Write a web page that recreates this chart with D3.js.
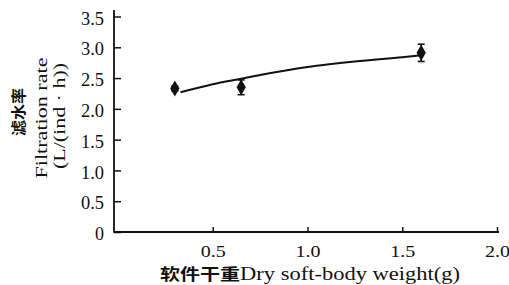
<!DOCTYPE html>
<html>
<head>
<meta charset="utf-8">
<script src="https://cdn.jsdelivr.net/npm/d3@7.9.0/dist/d3.min.js"></script>
<style>
  html, body { margin: 0; padding: 0; background: #fff; }
  svg { display: block; }
  svg text { fill: #111; font-family: "Liberation Serif", "DejaVu Serif", serif !important; }
  svg text.cjk, svg tspan.cjk { font-family: "Noto Sans CJK SC", sans-serif !important; font-weight: 700; }
</style>
</head>
<body>
<svg id="chart" width="509" height="285"></svg>
<script>
// measured points (mean ± error)
const weights   = [0.30, 0.65, 1.60];
const rates     = [2.33, 2.35, 2.91];
const rateErr   = [0.04, 0.12, 0.14];

// fitted curve
const curveX = [0.33, 0.50, 0.65, 0.75, 1.00, 1.25, 1.50, 1.60];
const curveY = [2.27, 2.40, 2.49, 2.55, 2.68, 2.77, 2.84, 2.87];

const xTicks = [0.5, 1.0, 1.5, 2.0];
const yTicks = [0, 0.5, 1.0, 1.5, 2.0, 2.5, 3.0, 3.5];

const svg = d3.select('#chart');
const x = d3.scaleLinear().domain([0, 2]).range([118, 497]);
const y = d3.scaleLinear().domain([0, 3.5]).range([232, 16.5]);
const X0 = 114, Y0 = 232;

// axes
const yAxis = d3.axisLeft(y).tickValues(yTicks).tickSizeInner(-7).tickSizeOuter(0).tickPadding(10)
  .tickFormat(d => d === 0 ? '0' : d.toFixed(1));
const gy = svg.append('g').attr('transform', `translate(${X0},0)`).call(yAxis)
  .attr('font-family', null).attr('font-size', null);
gy.select('.domain').remove();
gy.selectAll('.tick line').attr('stroke', '#111').attr('stroke-width', 1.5);
gy.selectAll('.tick text')
  .attr('font-size', 19).attr('dy', '0.40em')
  .attr('textLength', d => d === 0 ? 9 : 23).attr('lengthAdjust', 'spacingAndGlyphs');

const xAxis = d3.axisBottom(x).tickValues(xTicks).tickSizeInner(-5).tickSizeOuter(0).tickPadding(13)
  .tickFormat(d3.format('.1f'));
const gx = svg.append('g').attr('transform', `translate(0,${Y0})`).call(xAxis)
  .attr('font-family', null).attr('font-size', null);
gx.select('.domain').remove();
gx.selectAll('.tick line').attr('stroke', '#111').attr('stroke-width', 1.5);
gx.selectAll('.tick text')
  .attr('font-size', 17).attr('dy', '0.71em')
  .attr('textLength', 25).attr('lengthAdjust', 'spacingAndGlyphs');

svg.append('line').attr('x1', X0).attr('x2', X0).attr('y1', 10).attr('y2', Y0 + 0.75)
  .attr('stroke', '#111').attr('stroke-width', 1.8);
svg.append('line').attr('x1', X0).attr('x2', 499).attr('y1', Y0).attr('y2', Y0)
  .attr('stroke', '#111').attr('stroke-width', 1.8);

// fitted curve
const line = d3.line().x(d => x(d[0])).y(d => y(d[1])).curve(d3.curveMonotoneX);
svg.append('path')
  .datum(d3.zip(curveX, curveY))
  .attr('d', line)
  .attr('fill', 'none').attr('stroke', '#111').attr('stroke-width', 2);

// error bars
const pts = weights.map((w, i) => ({ w, r: rates[i], e: rateErr[i] }));
const eb = svg.append('g').attr('stroke', '#111').attr('stroke-width', 1.6);
pts.forEach(p => {
  eb.append('line').attr('x1', x(p.w)).attr('x2', x(p.w)).attr('y1', y(p.r - p.e)).attr('y2', y(p.r + p.e));
  [p.r - p.e, p.r + p.e].forEach(v => {
    eb.append('line').attr('x1', x(p.w) - 3.5).attr('x2', x(p.w) + 3.5).attr('y1', y(v)).attr('y2', y(v));
  });
});

// diamond markers
svg.append('g').selectAll('path').data(pts).join('path')
  .attr('transform', d => `translate(${x(d.w)},${y(d.r)})`)
  .attr('d', d3.symbol(d3.symbolDiamond, 75))
  .attr('fill', '#111');

// axis titles
svg.append('text').attr('class', 'cjk')
  .attr('transform', 'translate(24,112) rotate(-90)')
  .attr('text-anchor', 'middle').attr('font-size', 15)
  .attr('textLength', 48).attr('lengthAdjust', 'spacingAndGlyphs')
  .text('滤水率');
svg.append('text')
  .attr('transform', 'translate(47,118) rotate(-90)')
  .attr('text-anchor', 'middle').attr('font-size', 16)
  .attr('textLength', 121).attr('lengthAdjust', 'spacingAndGlyphs')
  .text('Filtration rate');
svg.append('text')
  .attr('transform', 'translate(65,116) rotate(-90)')
  .attr('text-anchor', 'middle').attr('font-size', 16)
  .attr('textLength', 106).attr('lengthAdjust', 'spacingAndGlyphs')
  .text('(L/(ind · h))');

const xl = svg.append('text')
  .attr('x', 310).attr('y', 280)
  .attr('text-anchor', 'middle').attr('font-size', 18)
  .attr('textLength', 300).attr('lengthAdjust', 'spacingAndGlyphs');
xl.append('tspan').attr('class', 'cjk').attr('font-size', 16).text('软件干重');
xl.append('tspan').text('Dry soft-body weight(g)');
</script>
</body>
</html>
